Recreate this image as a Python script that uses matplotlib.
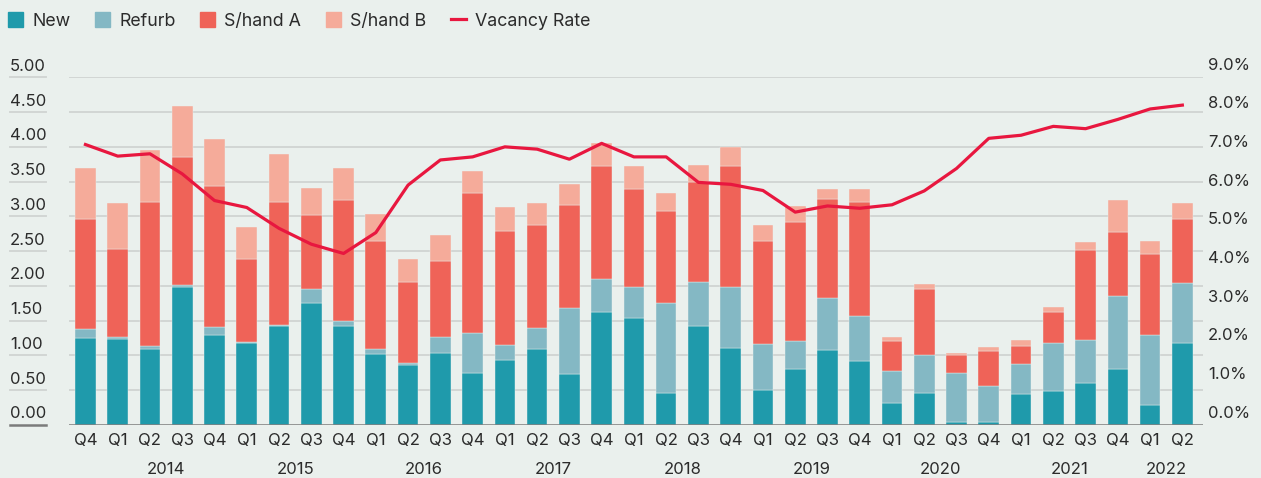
import matplotlib.pyplot as plt
from matplotlib.patches import Patch
from matplotlib.lines import Line2D
from matplotlib import transforms
import numpy as np

plt.rcParams['font.family'] = ['Inter', 'DejaVu Sans']

quarters = ['Q4', 'Q1', 'Q2', 'Q3', 'Q4', 'Q1', 'Q2', 'Q3', 'Q4', 'Q1', 'Q2', 'Q3',
            'Q4', 'Q1', 'Q2', 'Q3', 'Q4', 'Q1', 'Q2', 'Q3', 'Q4', 'Q1', 'Q2', 'Q3',
            'Q4', 'Q1', 'Q2', 'Q3', 'Q4', 'Q1', 'Q2', 'Q3', 'Q4', 'Q1', 'Q2']
years = ['2014', '2015', '2016', '2017', '2018', '2019', '2020', '2021', '2022']

new = [1.25, 1.23, 1.10, 1.98, 1.29, 1.18, 1.42, 1.76, 1.42, 1.02, 0.86, 1.04,
       0.75, 0.94, 1.10, 0.73, 1.63, 1.54, 0.46, 1.43, 1.11, 0.51, 0.81, 1.08,
       0.92, 0.31, 0.46, 0.05, 0.05, 0.44, 0.49, 0.61, 0.81, 0.29, 1.18]
refurb = [0.13, 0.04, 0.04, 0.03, 0.12, 0.01, 0.02, 0.19, 0.07, 0.07, 0.03, 0.23,
          0.57, 0.21, 0.30, 0.95, 0.47, 0.44, 1.29, 0.63, 0.87, 0.66, 0.40, 0.75,
          0.65, 0.47, 0.55, 0.70, 0.51, 0.44, 0.69, 0.61, 1.05, 1.00, 0.86]
shand_a = [1.58, 1.26, 2.07, 1.84, 2.03, 1.20, 1.77, 1.07, 1.74, 1.55, 1.17, 1.09,
           2.02, 1.64, 1.48, 1.48, 1.63, 1.41, 1.33, 1.44, 1.75, 1.48, 1.71, 1.42,
           1.64, 0.43, 0.94, 0.26, 0.51, 0.26, 0.45, 1.30, 0.92, 1.17, 0.92]
shand_b = [0.73, 0.66, 0.74, 0.74, 0.67, 0.46, 0.69, 0.39, 0.46, 0.40, 0.32, 0.37,
           0.31, 0.34, 0.31, 0.31, 0.33, 0.33, 0.26, 0.24, 0.27, 0.23, 0.23, 0.14,
           0.18, 0.06, 0.08, 0.03, 0.05, 0.08, 0.07, 0.11, 0.46, 0.19, 0.23]
vacancy = [7.26, 6.96, 7.02, 6.50, 5.81, 5.63, 5.09, 4.68, 4.44, 4.98, 6.21, 6.86,
           6.94, 7.20, 7.14, 6.88, 7.29, 6.94, 6.94, 6.28, 6.23, 6.07, 5.51, 5.67,
           5.61, 5.70, 6.06, 6.64, 7.42, 7.50, 7.73, 7.67, 7.91, 8.18, 8.28]

bg = '#eaf0ed'
c_new, c_ref, c_sa, c_sb, c_vac = '#1f9aab', '#84b8c4', '#ef6358', '#f5ab9a', '#e8173f'
txt = '#2b2b2b'
fs = 12

W, H = 1261, 478
fig = plt.figure(figsize=(W / 100, H / 100), dpi=100, facecolor=bg)
ax = fig.add_axes([69 / W, 53 / H, (1203 - 69) / W, (425 - 77.3) / H])
ax.set_facecolor(bg)

x = np.arange(len(quarters))
bottom = np.zeros(len(x))
for vals, col in [(new, c_new), (refurb, c_ref), (shand_a, c_sa), (shand_b, c_sb)]:
    ax.bar(x, vals, bottom=bottom, width=0.64, color=col, edgecolor=bg,
           linewidth=0.3, zorder=2)
    bottom += np.array(vals)

ax.set_xlim(-0.51, 34.64)
ax.set_ylim(0, 5)
for s in ax.spines.values():
    s.set_visible(False)
ax.set_yticks([])

# gridlines + left labels sitting above short underlines
lbl_tr = transforms.blended_transform_factory(fig.transFigure, ax.transData)
lbl_off = transforms.offset_copy(lbl_tr, fig=fig, y=11, units='dots')
for v in np.arange(0, 5.01, 0.5):
    col = '#7b7b7b' if v == 0 else '#d2d6d4'
    lw = 1.8 if v == 0 else 1.4
    ax.axhline(v, color=col, lw=lw, zorder=3 if v == 0 else 0)
    ax.plot([10 / W, 46 / W], [v, v], transform=lbl_tr, color=col, lw=lw,
            clip_on=False)
    ax.text(10 / W, v, f'{v:.2f}', transform=lbl_off, ha='left', va='center',
            fontsize=fs, color=txt)

ax.set_xticks(x, quarters)
ax.tick_params(axis='x', length=0, pad=6, labelsize=fs, labelcolor=txt)

year_tr = transforms.offset_copy(
    transforms.blended_transform_factory(ax.transData, ax.transAxes),
    fig=fig, y=-44, units='dots')
year_pos = [2.5, 6.5, 10.5, 14.5, 18.5, 22.5, 26.5, 30.5, 33.5]
for pos, yr in zip(year_pos, years):
    ax.text(pos, 0, yr, transform=year_tr, ha='center', va='center',
            fontsize=fs, color=txt)

ax2 = ax.twinx()
ax2.set_ylim(0, 9)
ax2.plot(x, vacancy, color=c_vac, lw=2.3, zorder=5, solid_joinstyle='round')
for s in ax2.spines.values():
    s.set_visible(False)
ax2.set_yticks([])
r_tr = transforms.offset_copy(
    transforms.blended_transform_factory(fig.transFigure, ax2.transData),
    fig=fig, y=12, units='dots')
for v in range(10):
    ax2.text(1208 / W, v, f'{v:.1f}%', transform=r_tr, ha='left', va='center',
             fontsize=fs, color=txt)

handles = [Patch(color=c_new, label='New'), Patch(color=c_ref, label='Refurb'),
           Patch(color=c_sa, label='S/hand A'), Patch(color=c_sb, label='S/hand B'),
           Line2D([], [], color=c_vac, lw=2.3, label='Vacancy Rate')]
fig.legend(handles=handles, loc='center left', bbox_to_anchor=(8 / W, 1 - 21 / H),
           ncol=5, frameon=False, fontsize=12.8, handlelength=0.85, handleheight=0.85,
           handletextpad=0.5, columnspacing=1.4, borderpad=0, borderaxespad=0,
           labelcolor=txt)

fig.savefig('out.png', dpi=100, facecolor=bg)
